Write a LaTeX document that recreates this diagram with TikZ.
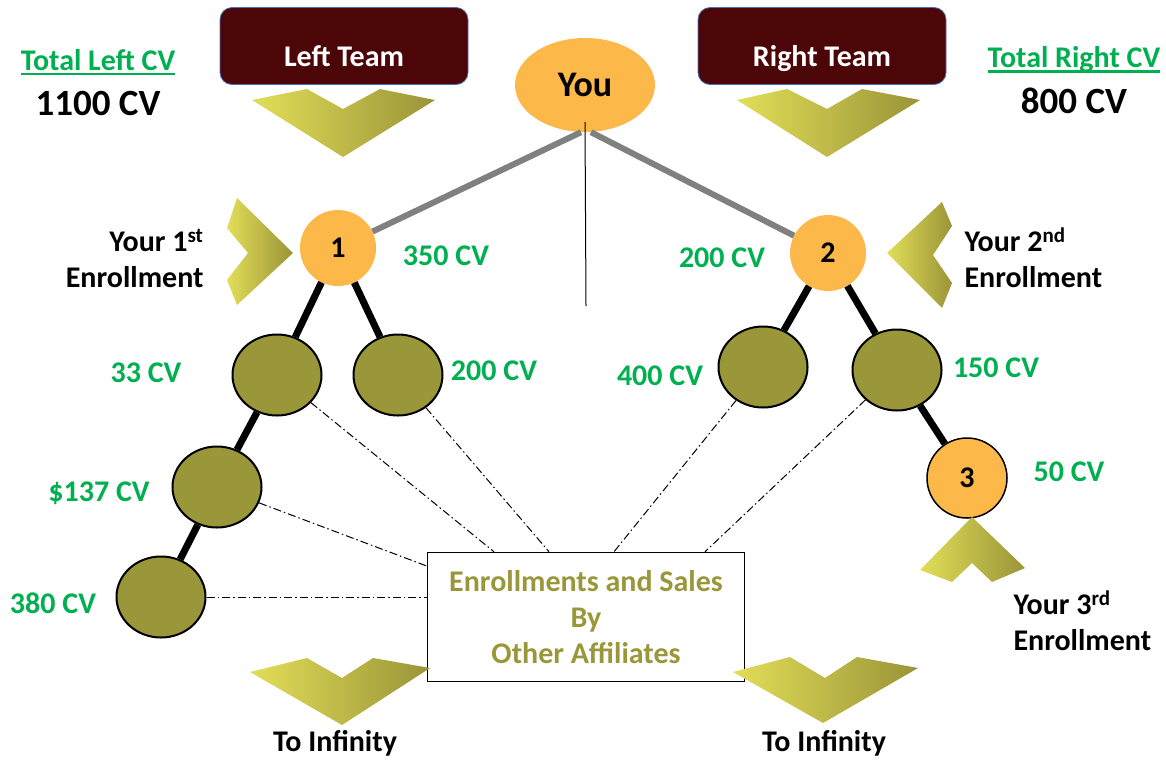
\documentclass[tikz,border=0pt]{standalone}
\usepackage{fontspec}
\setmainfont{Carlito}
\usepackage{tikz}
\usetikzlibrary{shapes.geometric,positioning}

\definecolor{teamred}{HTML}{4D0608}
\definecolor{teamblue}{HTML}{4472C4}
\definecolor{youorange}{HTML}{FDB84A}
\definecolor{affolive}{HTML}{9A963A}
\definecolor{cvgreen}{HTML}{00B050}
\definecolor{linegray}{HTML}{808080}
\definecolor{chevlight}{HTML}{E2DE58}
\definecolor{chevmid}{HTML}{ABA543}
\definecolor{chevdark}{HTML}{9A9438}

\newcommand{\cvul}[1]{\setbox0\hbox{#1}\rlap{\rule[-5pt]{\wd0}{2.5pt}}\box0}

\begin{document}
\begin{tikzpicture}[x=1pt,y=-1pt,font=\bfseries\fontsize{30}{36}\selectfont,
	main node/.style={circle,fill=youorange,minimum size=76pt,inner sep=0pt},
	team node/.style={rounded corners=12pt,draw=teamblue,line width=0.8pt,fill=teamred,text=white,minimum width=248pt,minimum height=77pt,text height=40pt,text depth=0pt},
	aff node/.style={ellipse,draw,line width=2pt,fill=affolive,minimum width=89pt,minimum height=81pt},
	cv node/.style={text=cvgreen},
	leg line/.style={line width=7pt},
	aff line/.style={line width=1pt,dash pattern=on 8pt off 3pt on 1.5pt off 3pt},
	chev/.style={left color=chevlight,middle color=chevmid,right color=chevdark}]
			
			\useasboundingbox (0,0) rectangle (1166,764);
			
			\node[team node] (lteam) at (344,46) {Left Team};
			\node[team node] (rteam) at (822,46) {Right Team};
			\node[ellipse,fill=youorange,minimum width=140pt,minimum height=94pt,font=\bfseries\fontsize{36}{36}\selectfont] (you) at (585,85) {You};
			
			\node[main node] (1) at (338,248) {1};
			\node[main node] (2) at (828,253) {2};
			\node[main node,draw,line width=1.5pt,minimum size=80pt] (3) at (967,478) {3};
			
			\node[aff node] (a) at (277,375) {};
			\node[aff node] (b) at (398,375) {};
			\node[aff node] (c) at (217,487) {};
			\node[aff node] (d) at (161,597) {};
			\node[aff node] (e) at (763,367) {};
			\node[aff node] (f) at (897,370) {};
			
			\node[draw,line width=1.5pt,minimum width=317pt,minimum height=129pt,align=center,text=affolive] (box) at (586,617) {Enrollments and Sales\\By\\Other Affiliates};
			\coordinate (mid) at (586,306);
			
			\draw[linegray,line width=6pt] ([xshift=-4pt]you.south) -- (1);
			\draw[linegray,line width=6pt] ([xshift=6pt]you.south) -- (2);
			\draw[line width=1pt] ([yshift=10pt]you.south) -- (mid);
			
			\draw[leg line] (1) -- (a);
			\draw[leg line] (1) -- (b);
			\draw[leg line] (a) -- (c);
			\draw[leg line] (c) -- (d);
			\draw[leg line] (2) -- (e);
			\draw[leg line] (2) -- (f);
			\draw[leg line] (f) -- (3);
			
			\draw[aff line] (a) -- ([xshift=-92pt]box.north);
			\draw[aff line] (b) -- ([xshift=-37pt]box.north);
			\draw[aff line] (c) -- ([yshift=51pt]box.west);
			\draw[aff line] (d) -- (d -| box.west);
			\draw[aff line] (e) -- ([xshift=28pt]box.north);
			\draw[aff line] (f) -- ([xshift=119pt]box.north);
			
			\shade[chev] (252,100) -- (307,89) -- (343,109) -- (380,89) -- (435,100) -- (343,157) -- cycle;
			\shade[chev] (737,100) -- (787,89) -- (827,109) -- (862,89) -- (920,100) -- (827,157) -- cycle;
			\shade[chev] (237,198) -- (293,253) -- (237,305) -- (227,280) -- (248,253) -- (227,228) -- cycle;
			\shade[chev] (942,202) -- (887,253) -- (942,308) -- (952,283) -- (933,255) -- (952,226) -- cycle;
			\shade[chev] (972,517) -- (1025,568) -- (992,582) -- (972,563) -- (952,582) -- (920,570) -- cycle;
			\shade[chev] (250,672) -- (307,658) -- (342,678) -- (373,658) -- (430,668) -- (342,725) -- cycle;
			\shade[chev] (733,672) -- (790,657) -- (825,678) -- (857,657) -- (918,668) -- (823,723) -- cycle;
			
			\node[cv node] (cv1) at (446,256) {350 CV};
			\node[cv node] (cv2) at (722,258) {200 CV};
			\node[cv node] (cva) at (146,373) {33 CV};
			\node[cv node] (cvb) at (494,371) {200 CV};
			\node[cv node] (cvc) at (99,493) {\$137 CV};
			\node[cv node] (cvd) at (53,603) {380 CV};
			\node[cv node] (cve) at (660,376) {400 CV};
			\node[cv node] (cvf) at (996,368) {150 CV};
			\node[cv node] (cv3) at (1069,472) {50 CV};
			
			\node[align=right,anchor=east] (enr1) at (207,258) {Your 1\textsuperscript{st}\\Enrollment};
			\node[align=left,anchor=west] (enr2) at (961,258) {Your 2\textsuperscript{nd}\\Enrollment};
			\node[align=left,anchor=west] (enr3) at (1010,621) {Your 3\textsuperscript{rd}\\Enrollment};
			
			\node[cv node] (totl) at (98,62) {\cvul{Total Left CV}};
			\node[font=\bfseries\fontsize{37}{36}\selectfont] (suml) at (98,103) {1100 CV};
			\node[cv node] (totr) at (1074,60) {\cvul{Total Right CV}};
			\node[font=\bfseries\fontsize{37}{36}\selectfont] (sumr) at (1074,101) {800 CV};
			
			\node (infl) at (335,743) {To Infinity};
			\node (infr) at (824,743) {To Infinity};
			
\end{tikzpicture}
\end{document}
